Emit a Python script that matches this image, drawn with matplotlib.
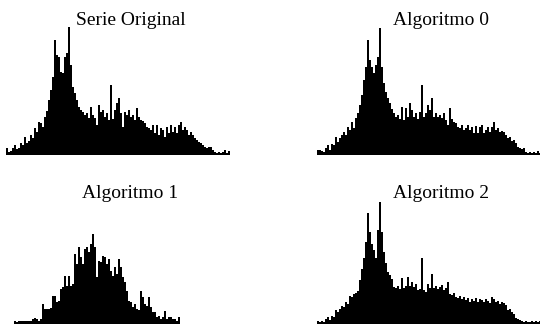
import numpy as np
import matplotlib.pyplot as plt

plt.rcParams['font.family'] = ['Liberation Serif', 'DejaVu Serif']

titulos = ["Serie Original", "Algoritmo 0", "Algoritmo 1", "Algoritmo 2"]

# alturas de cada clase del histograma (lectura aproximada del original)
serie_original = [7, 3, 4, 7, 10, 6, 7, 12, 10, 18, 12, 14, 20, 17, 27, 23,
                  33, 32, 28, 38, 44, 55, 65, 78, 115, 100, 98, 83, 82, 98, 102, 128,
                  90, 68, 62, 55, 48, 45, 43, 40, 42, 37, 48, 40, 37, 30, 50, 43,
                  45, 38, 42, 35, 70, 36, 45, 52, 57, 42, 28, 43, 40, 45, 38, 40,
                  35, 47, 38, 35, 34, 32, 28, 27, 25, 30, 22, 30, 20, 27, 25, 18,
                  28, 22, 30, 23, 28, 22, 30, 33, 25, 28, 25, 20, 23, 20, 17, 15,
                  13, 12, 10, 8, 7, 8, 8, 5, 3, 2, 3, 2, 3, 5, 2, 4]

algoritmo0 = [5, 5, 4, 3, 7, 10, 5, 11, 10, 18, 13, 17, 20, 23, 20, 28,
              25, 33, 27, 37, 42, 50, 60, 75, 88, 115, 95, 88, 82, 90, 98, 127,
              88, 72, 63, 57, 52, 46, 42, 38, 40, 36, 48, 35, 47, 38, 52, 45,
              38, 42, 36, 43, 70, 38, 42, 50, 45, 57, 38, 42, 38, 40, 37, 42,
              35, 30, 47, 36, 33, 32, 28, 27, 30, 25, 27, 30, 25, 28, 22, 29,
              22, 28, 30, 22, 25, 28, 23, 28, 33, 25, 27, 23, 24, 23, 20, 17,
              18, 14, 15, 12, 8, 7, 6, 7, 3, 2, 3, 2, 3, 2, 4, 2]

algoritmo1 = [3, 2, 3, 3, 3, 3, 3, 3, 3, 5, 6, 5, 3, 5, 20, 15,
              15, 15, 16, 28, 28, 22, 23, 35, 37, 48, 38, 48, 38, 40, 70, 60,
              77, 67, 60, 75, 77, 72, 80, 90, 77, 47, 63, 62, 68, 67, 60, 65,
              53, 48, 57, 50, 65, 57, 47, 42, 33, 23, 22, 17, 20, 15, 14, 33,
              27, 20, 18, 27, 17, 12, 12, 7, 8, 5, 7, 13, 5, 7, 7, 5,
              5, 3, 7]

algoritmo2 = [3, 2, 3, 2, 5, 7, 4, 8, 7, 14, 12, 15, 18, 17, 22, 20,
              28, 27, 30, 31, 33, 44, 55, 66, 82, 111, 92, 80, 74, 66, 94, 122,
              92, 72, 61, 52, 49, 45, 37, 36, 38, 35, 46, 36, 38, 47, 38, 42,
              37, 40, 34, 35, 66, 34, 32, 40, 36, 50, 36, 38, 35, 37, 39, 34,
              36, 42, 30, 29, 31, 27, 26, 28, 25, 27, 24, 26, 22, 25, 23, 26,
              22, 25, 24, 22, 25, 23, 21, 27, 25, 22, 23, 20, 22, 21, 19, 14,
              15, 12, 10, 6, 5, 4, 3, 2, 3, 2, 2, 3, 2, 3, 2, 3]

series = [serie_original, algoritmo0, algoritmo1, algoritmo2]
primera_clase = [0, 0, 4, 0]

W, H = 540, 331
fig = plt.figure(figsize=(W / 100, H / 100), dpi=100)

# (izquierda, linea base, linea base del titulo) en pixeles
cajas = [(6, 155, 25), (317, 155, 25), (6, 324, 198), (317, 324, 198)]
ancho, alto = 249, 135

for k in range(4):
    x0, base, ytit = cajas[k]
    ax = fig.add_axes([x0 / W, (H - base) / H, ancho / W, alto / H])
    y = np.array(series[k])
    x = np.arange(len(y)) + primera_clase[k]
    ax.bar(x, y, width=1.0, align='edge', color='black', linewidth=0)
    ax.set_xlim(0, ancho / 2)
    ax.set_ylim(0, alto)
    ax.axis('off')
    fig.text((x0 + ancho / 2) / W, (H - ytit) / H, titulos[k],
             ha='center', va='baseline', fontsize=14)

fig.savefig("out.png", dpi=100)
